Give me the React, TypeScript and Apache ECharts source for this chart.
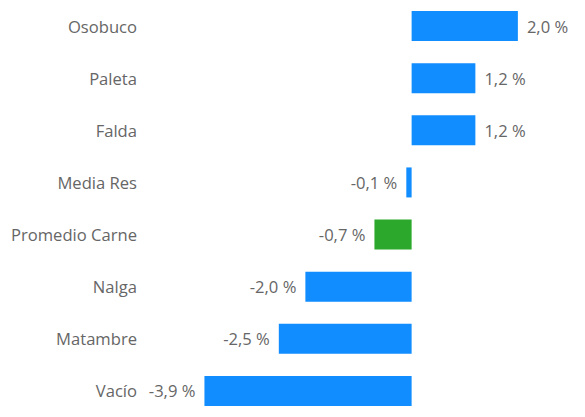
import React, { useEffect, useRef } from "react";
import * as echarts from "echarts";

const categories = ["Osobuco", "Paleta", "Falda", "Media Res", "Promedio Carne", "Nalga", "Matambre", "Vacío"];
const values = [2.0, 1.2, 1.2, -0.1, -0.7, -2.0, -2.5, -3.9];
const highlight = "Promedio Carne";

const BLUE = "#118DFF";
const GREEN = "#2CA82C";
const TEXT = "#666666";
const FONT = "'Open Sans', 'Noto Sans', sans-serif";

export default function App() {
  const ref = useRef<HTMLDivElement>(null);
  useEffect(() => {
    if (!ref.current) return;
    const chart = echarts.init(ref.current, undefined, { renderer: "svg" });
    const cats = [...categories].reverse();
    const vals = [...values].reverse();
    chart.setOption({
      animation: false,
      grid: { left: 146, right: 14, top: -3.5, bottom: -4.2, containLabel: false },
      xAxis: {
        type: "value",
        min: -5,
        max: 3,
        show: false,
      },
      yAxis: {
        type: "category",
        data: cats,
        axisLine: { show: false },
        axisTick: { show: false },
        splitLine: { show: false },
        axisLabel: {
          color: TEXT,
          fontSize: 16.6,
          fontFamily: FONT,
          margin: 9,
        },
      },
      series: [
        {
          type: "bar",
          barWidth: 30,
          data: vals.map((v, i) => ({
            value: v,
            itemStyle: { color: cats[i] === highlight ? GREEN : BLUE },
            label: {
              show: true,
              position: v >= 0 ? "right" : "left",
              distance: 9,
              color: TEXT,
              fontSize: 16.6,
              fontFamily: FONT,
              formatter: (p: any) => p.value.toFixed(1).replace(".", ",") + " %",
            },
          })),
        },
      ],
    });
    return () => chart.dispose();
  }, []);
  return (
    <div
      ref={ref}
      style={{ position: "fixed", left: 0, top: 0, width: 585, height: 417, background: "#fff" }}
    />
  );
}
